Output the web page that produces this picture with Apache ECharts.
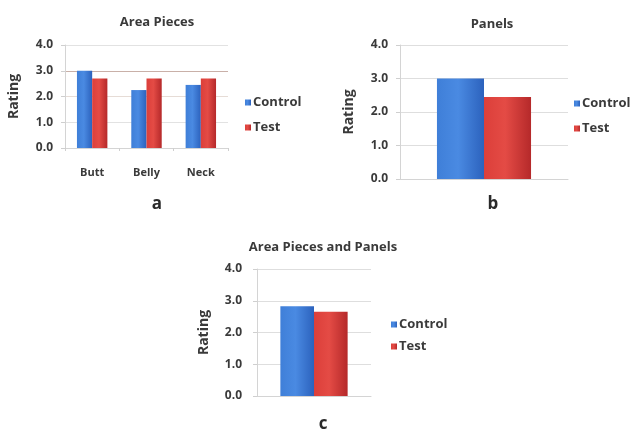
<!DOCTYPE html>
<html>
<head>
<meta charset="utf-8">
<script src="https://cdn.jsdelivr.net/npm/echarts@6/dist/echarts.min.js"></script>
<style>
  html, body { margin: 0; padding: 0; background: #ffffff; }
  #chart { width: 639px; height: 430px; }
</style>
</head>
<body>
<div id="chart"></div>
<script>
// Mean ratings, Control vs Test
const seriesNames = ['Control', 'Test'];

// (a) Area pieces
const areaCategories = ['Butt', 'Belly', 'Neck'];
const areaControl = [3.0, 2.25, 2.45];
const areaTest = [2.7, 2.7, 2.7];

// (b) Panels
const panelCategories = [''];
const panelControl = [3.0];
const panelTest = [2.45];

// (c) Area pieces and panels combined
const combinedCategories = [''];
const combinedControl = [2.83];
const combinedTest = [2.65];

const ratingTicks = { min: 0, max: 4, interval: 1 };
const panelLetters = ['a', 'b', 'c'];
const chartTitles = ['Area Pieces', 'Panels', 'Area Pieces and Panels'];

const FONT = '"Open Sans", "Liberation Sans", sans-serif';
const TEXT = '#3a3a3a';

const blueFill = new echarts.graphic.LinearGradient(0, 0, 1, 0, [
  { offset: 0, color: '#3f7fd8' },
  { offset: 0.45, color: '#4a8ae2' },
  { offset: 1, color: '#2c62bd' }
]);
const redFill = new echarts.graphic.LinearGradient(0, 0, 1, 0, [
  { offset: 0, color: '#dc3f3a' },
  { offset: 0.45, color: '#e44b45' },
  { offset: 1, color: '#b5292a' }
]);

const grids = [
  { left: 65, top: 45, width: 163, height: 103 },
  { left: 400, top: 45, width: 168, height: 134 },
  { left: 257, top: 269, width: 114, height: 127 }
];

const labelMargins = [12, 12, 15];
const nameGaps = [44, 44, 46];

function yAxisFor(i) {
  return {
    type: 'value', gridIndex: i,
    min: ratingTicks.min, max: ratingTicks.max, interval: ratingTicks.interval,
    name: 'Rating', nameLocation: 'middle', nameGap: nameGaps[i], nameRotate: 90,
    nameTextStyle: { fontFamily: FONT, fontWeight: 'bold', fontSize: 14, color: TEXT },
    axisLine: { show: true, lineStyle: { color: '#d4d4d4' } },
    axisTick: { show: true, length: 4, lineStyle: { color: '#cfcfcf' } },
    axisLabel: { fontFamily: FONT, fontWeight: 'bold', fontSize: 12, color: TEXT, margin: labelMargins[i],
      formatter: v => v.toFixed(1) },
    splitLine: { lineStyle: { color: i === 0 ? ['#e2e2e2', '#e2e2e2', '#e6dcd6', '#c9b0a8', '#e2e2e2'] : '#dedede' } }
  };
}

function xAxisFor(i, cats) {
  return {
    type: 'category', gridIndex: i, data: cats,
    axisLine: { lineStyle: { color: '#d4d4d4' } },
    axisTick: { show: cats.length > 1, lineStyle: { color: '#cfcfcf' }, length: 3 },
    axisLabel: { fontFamily: FONT, fontWeight: 'bold', fontSize: 11, color: TEXT, margin: 19 }
  };
}

function barPair(i, ctrl, test, gap) {
  return [
    { name: seriesNames[0], type: 'bar', xAxisIndex: i, yAxisIndex: i, data: ctrl,
      barGap: '0%', barCategoryGap: gap, itemStyle: { color: blueFill } },
    { name: seriesNames[1], type: 'bar', xAxisIndex: i, yAxisIndex: i, data: test,
      barGap: '0%', barCategoryGap: gap, itemStyle: { color: redFill } }
  ];
}

function legendAt(left, top, gap) {
  return {
    data: seriesNames, orient: 'vertical', left: left, top: top,
    itemWidth: 6, itemHeight: 6, itemGap: gap, icon: 'rect',
    selectedMode: false,
    textStyle: { fontFamily: FONT, fontWeight: 'bold', fontSize: 13, color: TEXT, padding: [0, 0, 0, -3] }
  };
}

const titleCenters = [[152, 11], [487, 13], [318, 236]];
const letterCenters = [[152, 191], [488, 191], [318, 411]];

const option = {
  backgroundColor: '#ffffff',
  animation: false,
  title: [
    ...chartTitles.map((t, i) => ({
      text: t, left: titleCenters[i][0], top: titleCenters[i][1], textAlign: 'center',
      textStyle: { fontFamily: FONT, fontWeight: 'bold', fontSize: 13, color: TEXT }
    })),
    ...panelLetters.map((t, i) => ({
      text: t, left: letterCenters[i][0], top: letterCenters[i][1], textAlign: 'center',
      textStyle: { fontFamily: FONT, fontWeight: 'bold', fontSize: 17, color: '#2a2a2a' }
    }))
  ],
  legend: [legendAt(240, 91, 12), legendAt(569, 92, 12), legendAt(386, 313, 9)],
  grid: grids,
  xAxis: [
    xAxisFor(0, areaCategories),
    xAxisFor(1, panelCategories),
    xAxisFor(2, combinedCategories)
  ],
  yAxis: [yAxisFor(0), yAxisFor(1), yAxisFor(2)],
  series: [
    ...barPair(0, areaControl, areaTest, '44%'),
    ...barPair(1, panelControl, panelTest, '44%'),
    ...barPair(2, combinedControl, combinedTest, '41%')
  ]
};

const chart = echarts.init(document.getElementById('chart'), null, { renderer: 'canvas' });
chart.setOption(option);
</script>
</body>
</html>
